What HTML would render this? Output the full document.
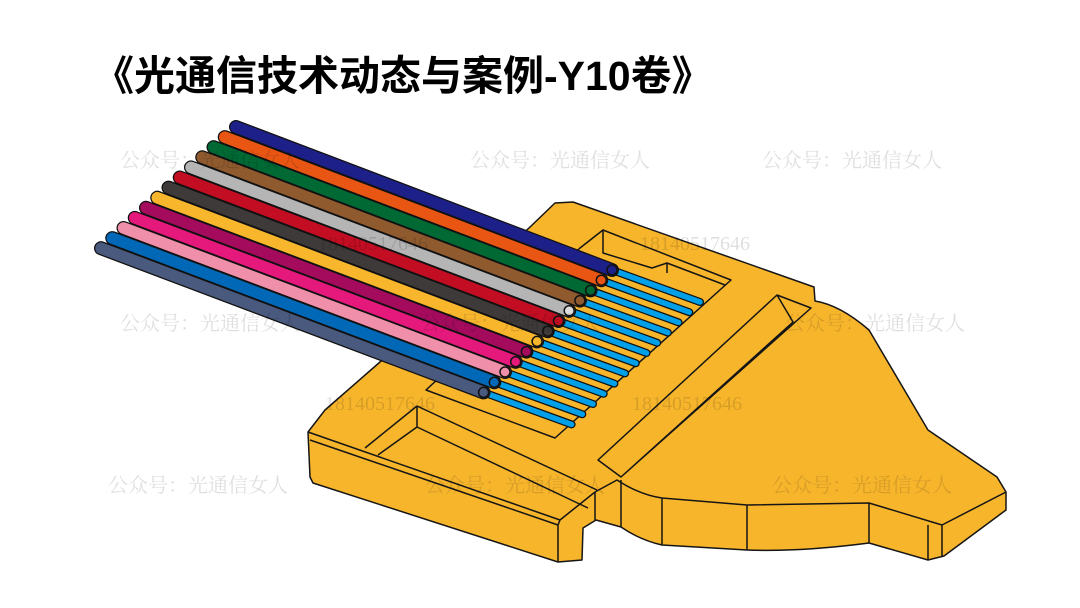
<!DOCTYPE html>
<html><head><meta charset="utf-8"><style>
html,body{margin:0;padding:0;background:#fff;width:1080px;height:608px;overflow:hidden}
.t{position:absolute;left:93px;top:42px;font:bold 41px "Liberation Sans","Noto Sans CJK SC",sans-serif;color:#000;white-space:nowrap}
</style></head><body>
<div class="t">《光通信技术动态与案例-Y10卷》</div>
<svg width="1080" height="608" style="position:absolute;left:0;top:0" xmlns="http://www.w3.org/2000/svg">
<g stroke="#151515" stroke-width="1.5" stroke-linejoin="round" fill="none">
<path fill="#F7B52C" d="M555,203 L573,202 L814,287 L815,301 Q840,305 869,330 L928,430 L997,477 L1006,492 L1006,510 L944,556 L928,560 L869,543 Q800,552 747,550 L662,545 Q640,540 621,527 L596,520 L583,528 L582,560 L558,562 L313,483 L310,477 L308,432 L325,410 L380,362 L529,228 Z"/>
<path d="M595,492 L617,480 Q640,495 662,498 L747,505 L869,503 L942,525 L1006,492"/>
<path d="M662,498 L662,545 M747,505 L747,550 M869,503 L869,543 M928,525 L928,560 M942,525 L942,557 M621,480 L621,527"/>
<path d="M308,432 L560,520 L595,492 M310,440 L558,525 L558,562 M560,520 L558,525 M595,492 L595,520"/>
<path d="M417,406 L597,490 M417,406 L365,448 M417,406 L417,427 L378,455 M417,427 L588,508"/>
<path fill="#F7B52C" d="M580,248 L603,230 L731,280 L555,438 L426,390 Z"/>
<path d="M603,230 L603,253 L652,268 L667,263 L725,285 M667,263 L667,273"/>
<path d="M777,295 L811,308 L621,477 L598,460 Z M777,295 L793,322 L621,477"/>
</g>
<g stroke-linecap="round" fill="none">
<path d="M612,270 L700,302" stroke="#111" stroke-width="8"/><path d="M612,270 L700,302" stroke="#00A0E9" stroke-width="5.5"/>
<path d="M236,127 L612,270" stroke="#111" stroke-width="14"/><path d="M236,127 L612,270" stroke="#1D2088" stroke-width="11.5"/><circle cx="612" cy="270" r="5" fill="#1D2088" stroke="#111" stroke-width="1.5"/>

<path d="M601.3,280.2 L689.3,312.2" stroke="#111" stroke-width="8"/><path d="M601.3,280.2 L689.3,312.2" stroke="#00A0E9" stroke-width="5.5"/>
<path d="M224.75,137.1 L601.3,280.2" stroke="#111" stroke-width="14"/><path d="M224.75,137.1 L601.3,280.2" stroke="#E95513" stroke-width="11.5"/><circle cx="601.3" cy="280.2" r="5" fill="#E95513" stroke="#111" stroke-width="1.5"/>

<path d="M590.6,290.4 L678.6,322.4" stroke="#111" stroke-width="8"/><path d="M590.6,290.4 L678.6,322.4" stroke="#00A0E9" stroke-width="5.5"/>
<path d="M213.5,147.2 L590.6,290.4" stroke="#111" stroke-width="14"/><path d="M213.5,147.2 L590.6,290.4" stroke="#006934" stroke-width="11.5"/><circle cx="590.6" cy="290.4" r="5" fill="#006934" stroke="#111" stroke-width="1.5"/>

<path d="M579.9,300.6 L667.9,332.6" stroke="#111" stroke-width="8"/><path d="M579.9,300.6 L667.9,332.6" stroke="#00A0E9" stroke-width="5.5"/>
<path d="M202.25,157.3 L579.9,300.6" stroke="#111" stroke-width="14"/><path d="M202.25,157.3 L579.9,300.6" stroke="#8F5A2E" stroke-width="11.5"/><circle cx="579.9" cy="300.6" r="5" fill="#8F5A2E" stroke="#111" stroke-width="1.5"/>

<path d="M569.2,310.8 L657.2,342.8" stroke="#111" stroke-width="8"/><path d="M569.2,310.8 L657.2,342.8" stroke="#00A0E9" stroke-width="5.5"/>
<path d="M191,167.4 L569.2,310.8" stroke="#111" stroke-width="14"/><path d="M191,167.4 L569.2,310.8" stroke="#B5B5B5" stroke-width="11.5"/><circle cx="569.2" cy="310.8" r="5" fill="#DDD" stroke="#111" stroke-width="1.5"/>

<path d="M558.5,321 L646.5,353" stroke="#111" stroke-width="8"/><path d="M558.5,321 L646.5,353" stroke="#00A0E9" stroke-width="5.5"/>
<path d="M179.75,177.5 L558.5,321" stroke="#111" stroke-width="14"/><path d="M179.75,177.5 L558.5,321" stroke="#C30D23" stroke-width="11.5"/><circle cx="558.5" cy="321" r="5" fill="#C30D23" stroke="#111" stroke-width="1.5"/>

<path d="M547.8,331.2 L635.8,363.2" stroke="#111" stroke-width="8"/><path d="M547.8,331.2 L635.8,363.2" stroke="#00A0E9" stroke-width="5.5"/>
<path d="M168.5,187.6 L547.8,331.2" stroke="#111" stroke-width="14"/><path d="M168.5,187.6 L547.8,331.2" stroke="#3E3A39" stroke-width="11.5"/><circle cx="547.8" cy="331.2" r="5" fill="#3E3A39" stroke="#111" stroke-width="1.5"/>

<path d="M537.1,341.4 L625.1,373.4" stroke="#111" stroke-width="8"/><path d="M537.1,341.4 L625.1,373.4" stroke="#00A0E9" stroke-width="5.5"/>
<path d="M157.25,197.7 L537.1,341.4" stroke="#111" stroke-width="14"/><path d="M157.25,197.7 L537.1,341.4" stroke="#F8B62D" stroke-width="11.5"/><circle cx="537.1" cy="341.4" r="5" fill="#F8B62D" stroke="#111" stroke-width="1.5"/>

<path d="M526.4,351.6 L614.4,383.6" stroke="#111" stroke-width="8"/><path d="M526.4,351.6 L614.4,383.6" stroke="#00A0E9" stroke-width="5.5"/>
<path d="M146,207.8 L526.4,351.6" stroke="#111" stroke-width="14"/><path d="M146,207.8 L526.4,351.6" stroke="#A40B5D" stroke-width="11.5"/><circle cx="526.4" cy="351.6" r="5" fill="#A40B5D" stroke="#111" stroke-width="1.5"/>

<path d="M515.7,361.8 L603.7,393.8" stroke="#111" stroke-width="8"/><path d="M515.7,361.8 L603.7,393.8" stroke="#00A0E9" stroke-width="5.5"/>
<path d="M134.75,217.9 L515.7,361.8" stroke="#111" stroke-width="14"/><path d="M134.75,217.9 L515.7,361.8" stroke="#E4197B" stroke-width="11.5"/><circle cx="515.7" cy="361.8" r="5" fill="#E4197B" stroke="#111" stroke-width="1.5"/>

<path d="M505,372 L593,404" stroke="#111" stroke-width="8"/><path d="M505,372 L593,404" stroke="#00A0E9" stroke-width="5.5"/>
<path d="M123.5,228 L505,372" stroke="#111" stroke-width="14"/><path d="M123.5,228 L505,372" stroke="#EF8FAA" stroke-width="11.5"/><circle cx="505" cy="372" r="5" fill="#EF8FAA" stroke="#111" stroke-width="1.5"/>

<path d="M494.3,382.2 L582.3,414.2" stroke="#111" stroke-width="8"/><path d="M494.3,382.2 L582.3,414.2" stroke="#00A0E9" stroke-width="5.5"/>
<path d="M112.25,238.1 L494.3,382.2" stroke="#111" stroke-width="14"/><path d="M112.25,238.1 L494.3,382.2" stroke="#0068B7" stroke-width="11.5"/><circle cx="494.3" cy="382.2" r="5" fill="#0068B7" stroke="#111" stroke-width="1.5"/>

<path d="M483.6,392.4 L571.6,424.4" stroke="#111" stroke-width="8"/><path d="M483.6,392.4 L571.6,424.4" stroke="#00A0E9" stroke-width="5.5"/>
<path d="M101,248.2 L483.6,392.4" stroke="#111" stroke-width="14"/><path d="M101,248.2 L483.6,392.4" stroke="#4A5A7E" stroke-width="11.5"/><circle cx="483.6" cy="392.4" r="5" fill="#4A5A7E" stroke="#111" stroke-width="1.5"/>
</g>
<g fill="#000" fill-opacity="0.13" font-family="'Liberation Serif','Noto Serif CJK SC',serif" font-size="20">
<text x="120" y="167">公众号：光通信女人</text>
<text x="470" y="167">公众号：光通信女人</text>
<text x="762" y="167">公众号：光通信女人</text>
<text x="120" y="330">公众号：光通信女人</text>
<text x="420" y="330">公众号：光通信女人</text>
<text x="785" y="330">公众号：光通信女人</text>
<text x="108" y="492">公众号：光通信女人</text>
<text x="425" y="492">公众号：光通信女人</text>
<text x="772" y="492">公众号：光通信女人</text>
<text x="318" y="250">18140517646</text>
<text x="640" y="250">18140517646</text>
<text x="325" y="410">18140517646</text>
<text x="632" y="410">18140517646</text>
</g>
</svg>
</body></html>
